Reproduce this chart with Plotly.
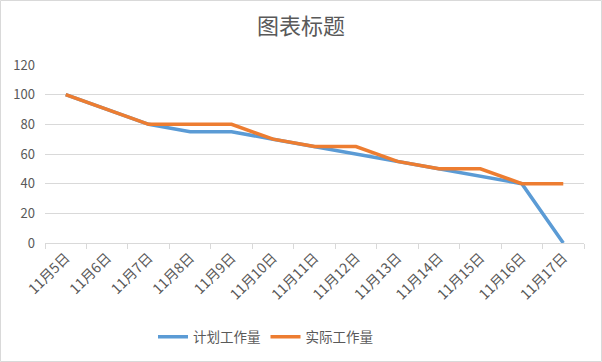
import plotly.graph_objects as go

categories = ["11月5日", "11月6日", "11月7日", "11月8日", "11月9日", "11月10日", "11月11日",
              "11月12日", "11月13日", "11月14日", "11月15日", "11月16日", "11月17日"]
planned = [100, 90, 80, 75, 75, 70, 65, 60, 55, 50, 45, 40, 0]
actual = [100, 90, 80, 80, 80, 70, 65, 65, 55, 50, 50, 40, 40]

W, H = 602, 362
ML, MR, MT, MB = 45, 18, 65, 119
pw, ph = W - ML - MR, H - MT - MB

font = "Noto Sans CJK SC, sans-serif"
fig = go.Figure()
fig.add_trace(go.Scatter(x=categories, y=planned, mode="lines", name="计划工作量",
                         line=dict(color="#5B9BD5", width=3.5)))
fig.add_trace(go.Scatter(x=categories, y=actual, mode="lines", name="实际工作量",
                         line=dict(color="#ED7D31", width=3.5)))

fig.update_layout(
    width=W, height=H,
    margin=dict(l=ML, r=MR, t=MT, b=MB, autoexpand=False),
    paper_bgcolor="white", plot_bgcolor="white",
    title=dict(text="图表标题", x=0.5, xanchor="center", xref="container",
               yref="container", y=1 - 26 / H, yanchor="middle",
               font=dict(family=font, size=22, color="#595959")),
    font=dict(family=font, size=12, color="#595959"),
    showlegend=True,
    legend=dict(orientation="h", x=(153 - ML) / pw, xanchor="left", y=-(337 - 243) / ph,
                yanchor="middle", font=dict(size=13.5, color="#595959"), tracegroupgap=0),
    xaxis=dict(type="category", range=[-0.5, 12.5], showgrid=False, automargin=False,
               showline=True, linecolor="#d9d9d9", linewidth=1,
               ticks="outside", tickson="boundaries", ticklen=5, tickcolor="#d9d9d9",
               tickangle=-45, tickfont=dict(size=14, color="#595959")),
    yaxis=dict(range=[0, 120], dtick=20, showgrid=True, gridcolor="#d9d9d9", gridwidth=1,
               zeroline=False, showline=False, ticks="", ticklabelstandoff=9, automargin=False,
               tickfont=dict(size=13, color="#595959")),
    shapes=[dict(type="rect", xref="paper", yref="paper",
                 x0=(0.5 - ML) / pw, x1=(W - 0.5 - ML) / pw,
                 y0=-(H - 0.5 - MT - ph) / ph, y1=1 + (MT - 0.5) / ph,
                 line=dict(color="#d9d9d9", width=1), layer="below")],
)
fig.write_html("out.html", config={"displayModeBar": False},
               post_script="document.body.style.margin='0';")
